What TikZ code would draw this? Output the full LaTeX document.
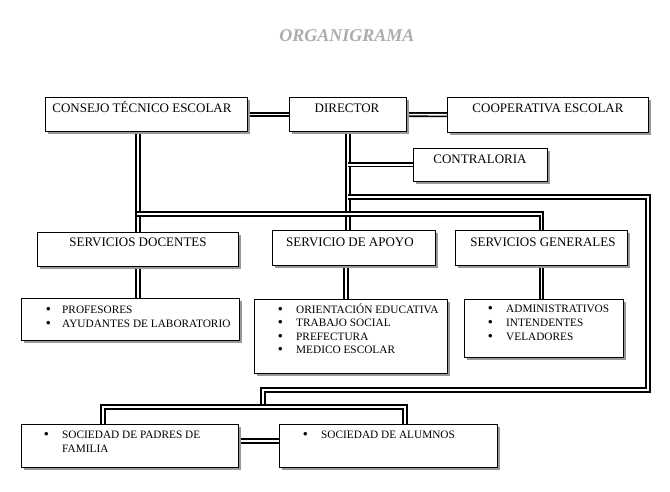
\documentclass[tikz,border=0pt]{standalone}
\usepackage{fontspec}
\setmainfont{Liberation Serif}
\usetikzlibrary{shadows}
\pgfdeclarelayer{bg}
\pgfsetlayers{bg,main}
\tikzset{
  box/.style={draw=black, line width=0.9pt, fill=white, inner sep=0pt,
    drop shadow={shadow xshift=3pt, shadow yshift=-3pt, fill=black!40, opacity=1}},
  lbl/.style={font=\fontsize{13}{15}\selectfont, inner sep=0pt},
  bul/.style={font=\fontsize{13}{15}\selectfont\bfseries, inner sep=0pt, anchor=base west},
  itm/.style={font=\fontsize{11.3}{13}\selectfont, inner sep=0pt, anchor=base west},
  dl/.style={draw=black, line width=1.7pt, double=white, double distance=1.7pt},
}
\newcommand\mybox[5]{\node[box, anchor=north west, minimum width={(#4-#2)*1pt}, minimum height={(#5-#3)*1pt}] (#1) at (#2,#3) {};}
\begin{document}
\begin{tikzpicture}[x=1pt,y=-1pt]
\useasboundingbox (0,0) rectangle (670,492);
\begin{pgfonlayer}{bg}
\fill[white] (0,0) rectangle (670,492);
\end{pgfonlayer}
% title
\node[font=\fontsize{18}{20}\selectfont\bfseries\itshape, text=black!32, inner sep=0pt, anchor=base] (title) at (347,42) {ORGANIGRAMA};
% routing points
\coordinate (r1) at (648,197);
\coordinate (r2) at (648,390);
\coordinate (r3) at (263,390);
\coordinate (r4) at (263,407);
\coordinate (b1) at (103,407);
\coordinate (b2) at (405,407);
\coordinate (bus) at (137,214);
% boxes
\mybox{cte}{45}{97}{247}{131}
\mybox{dir}{289}{97}{406}{131}
\mybox{coop}{447}{97}{648}{132}
\mybox{contra}{413}{148}{547}{181}
\mybox{sd}{37}{232}{238}{266}
\mybox{apoyo}{272}{230}{435}{265}
\mybox{gen}{455}{230}{627}{265}
\mybox{prof}{21}{298}{239}{340}
\mybox{apl}{254}{299}{447}{373}
\mybox{genl}{464}{299}{623}{357}
\mybox{padres}{21}{424}{238}{467}
\mybox{alum}{279}{424}{497}{467}
% connectors (under the boxes)
\begin{pgfonlayer}{bg}
\draw[dl] (cte) -- (dir);
\draw[dl] (dir) -- (coop);
\draw[dl] (sd.north) -- (sd.north |- cte.south);
\draw[dl] (dir.south) -- (dir.south |- apoyo.north);
\draw[dl] (dir.south |- contra.west) -- (contra.west);
\draw[dl] (bus) -- (bus -| gen.north) -- (gen.north);
\draw[dl] (dir.south |- r1) -- (r1) -- (r2) -- (r3) -- (r4);
\draw[dl] (b1 |- padres.north) -- (b1) -- (b2) -- (b2 |- alum.north);
\draw[dl] ([yshift=5pt]padres.east) -- ([yshift=5pt]padres.east -| alum.west);
\draw[dl] (sd.south) -- (sd.south |- prof.north);
\draw[dl] ([xshift=-5pt]apl.north) -- ([xshift=-5pt]apl.north |- apoyo.south);
\draw[dl] (gen.south) -- (gen.south |- genl.north);
\end{pgfonlayer}
% labels
\node[lbl, anchor=base] (tcte) at (142,113) {CONSEJO TÉCNICO ESCOLAR};
\node[lbl, anchor=base] (tdir) at (347,113) {DIRECTOR};
\node[lbl, anchor=base] (tcoop) at (548,113) {COOPERATIVA ESCOLAR};
\node[lbl, anchor=base] (tcontra) at (480,164) {CONTRALORIA};
\node[lbl, anchor=base] (tsd) at (138,247) {SERVICIOS DOCENTES};
\node[lbl, anchor=base] (tap) at (350,247) {SERVICIO DE APOYO};
\node[lbl, anchor=base] (tgen) at (543,247) {SERVICIOS GENERALES};
% lists
\node[bul] (p1b) at (46,313) {•};
\node[itm] (p1) at (62,313) {PROFESORES};
\node[bul] (p2b) at (46,327) {•};
\node[itm] (p2) at (62,327) {AYUDANTES DE LABORATORIO};
\node[bul] (a1b) at (278,313) {•};
\node[itm] (a1) at (296,313) {ORIENTACIÓN EDUCATIVA};
\node[bul] (a2b) at (278,326.5) {•};
\node[itm] (a2) at (296,326.5) {TRABAJO SOCIAL};
\node[bul] (a3b) at (278,340) {•};
\node[itm] (a3) at (296,340) {PREFECTURA};
\node[bul] (a4b) at (278,353.5) {•};
\node[itm] (a4) at (296,353.5) {MEDICO ESCOLAR};
\node[bul] (g1b) at (488,312) {•};
\node[itm] (g1) at (506,312) {ADMINISTRATIVOS};
\node[bul] (g2b) at (488,326) {•};
\node[itm] (g2) at (506,326) {INTENDENTES};
\node[bul] (g3b) at (488,340) {•};
\node[itm] (g3) at (506,340) {VELADORES};
\node[bul] (s1b) at (44,438) {•};
\node[itm] (s1) at (62,438) {SOCIEDAD DE PADRES DE};
\node[itm] (s1c) at (62,452) {FAMILIA};
\node[bul] (s2b) at (303,438) {•};
\node[itm] (s2) at (321,438) {SOCIEDAD DE ALUMNOS};
\end{tikzpicture}
\end{document}
